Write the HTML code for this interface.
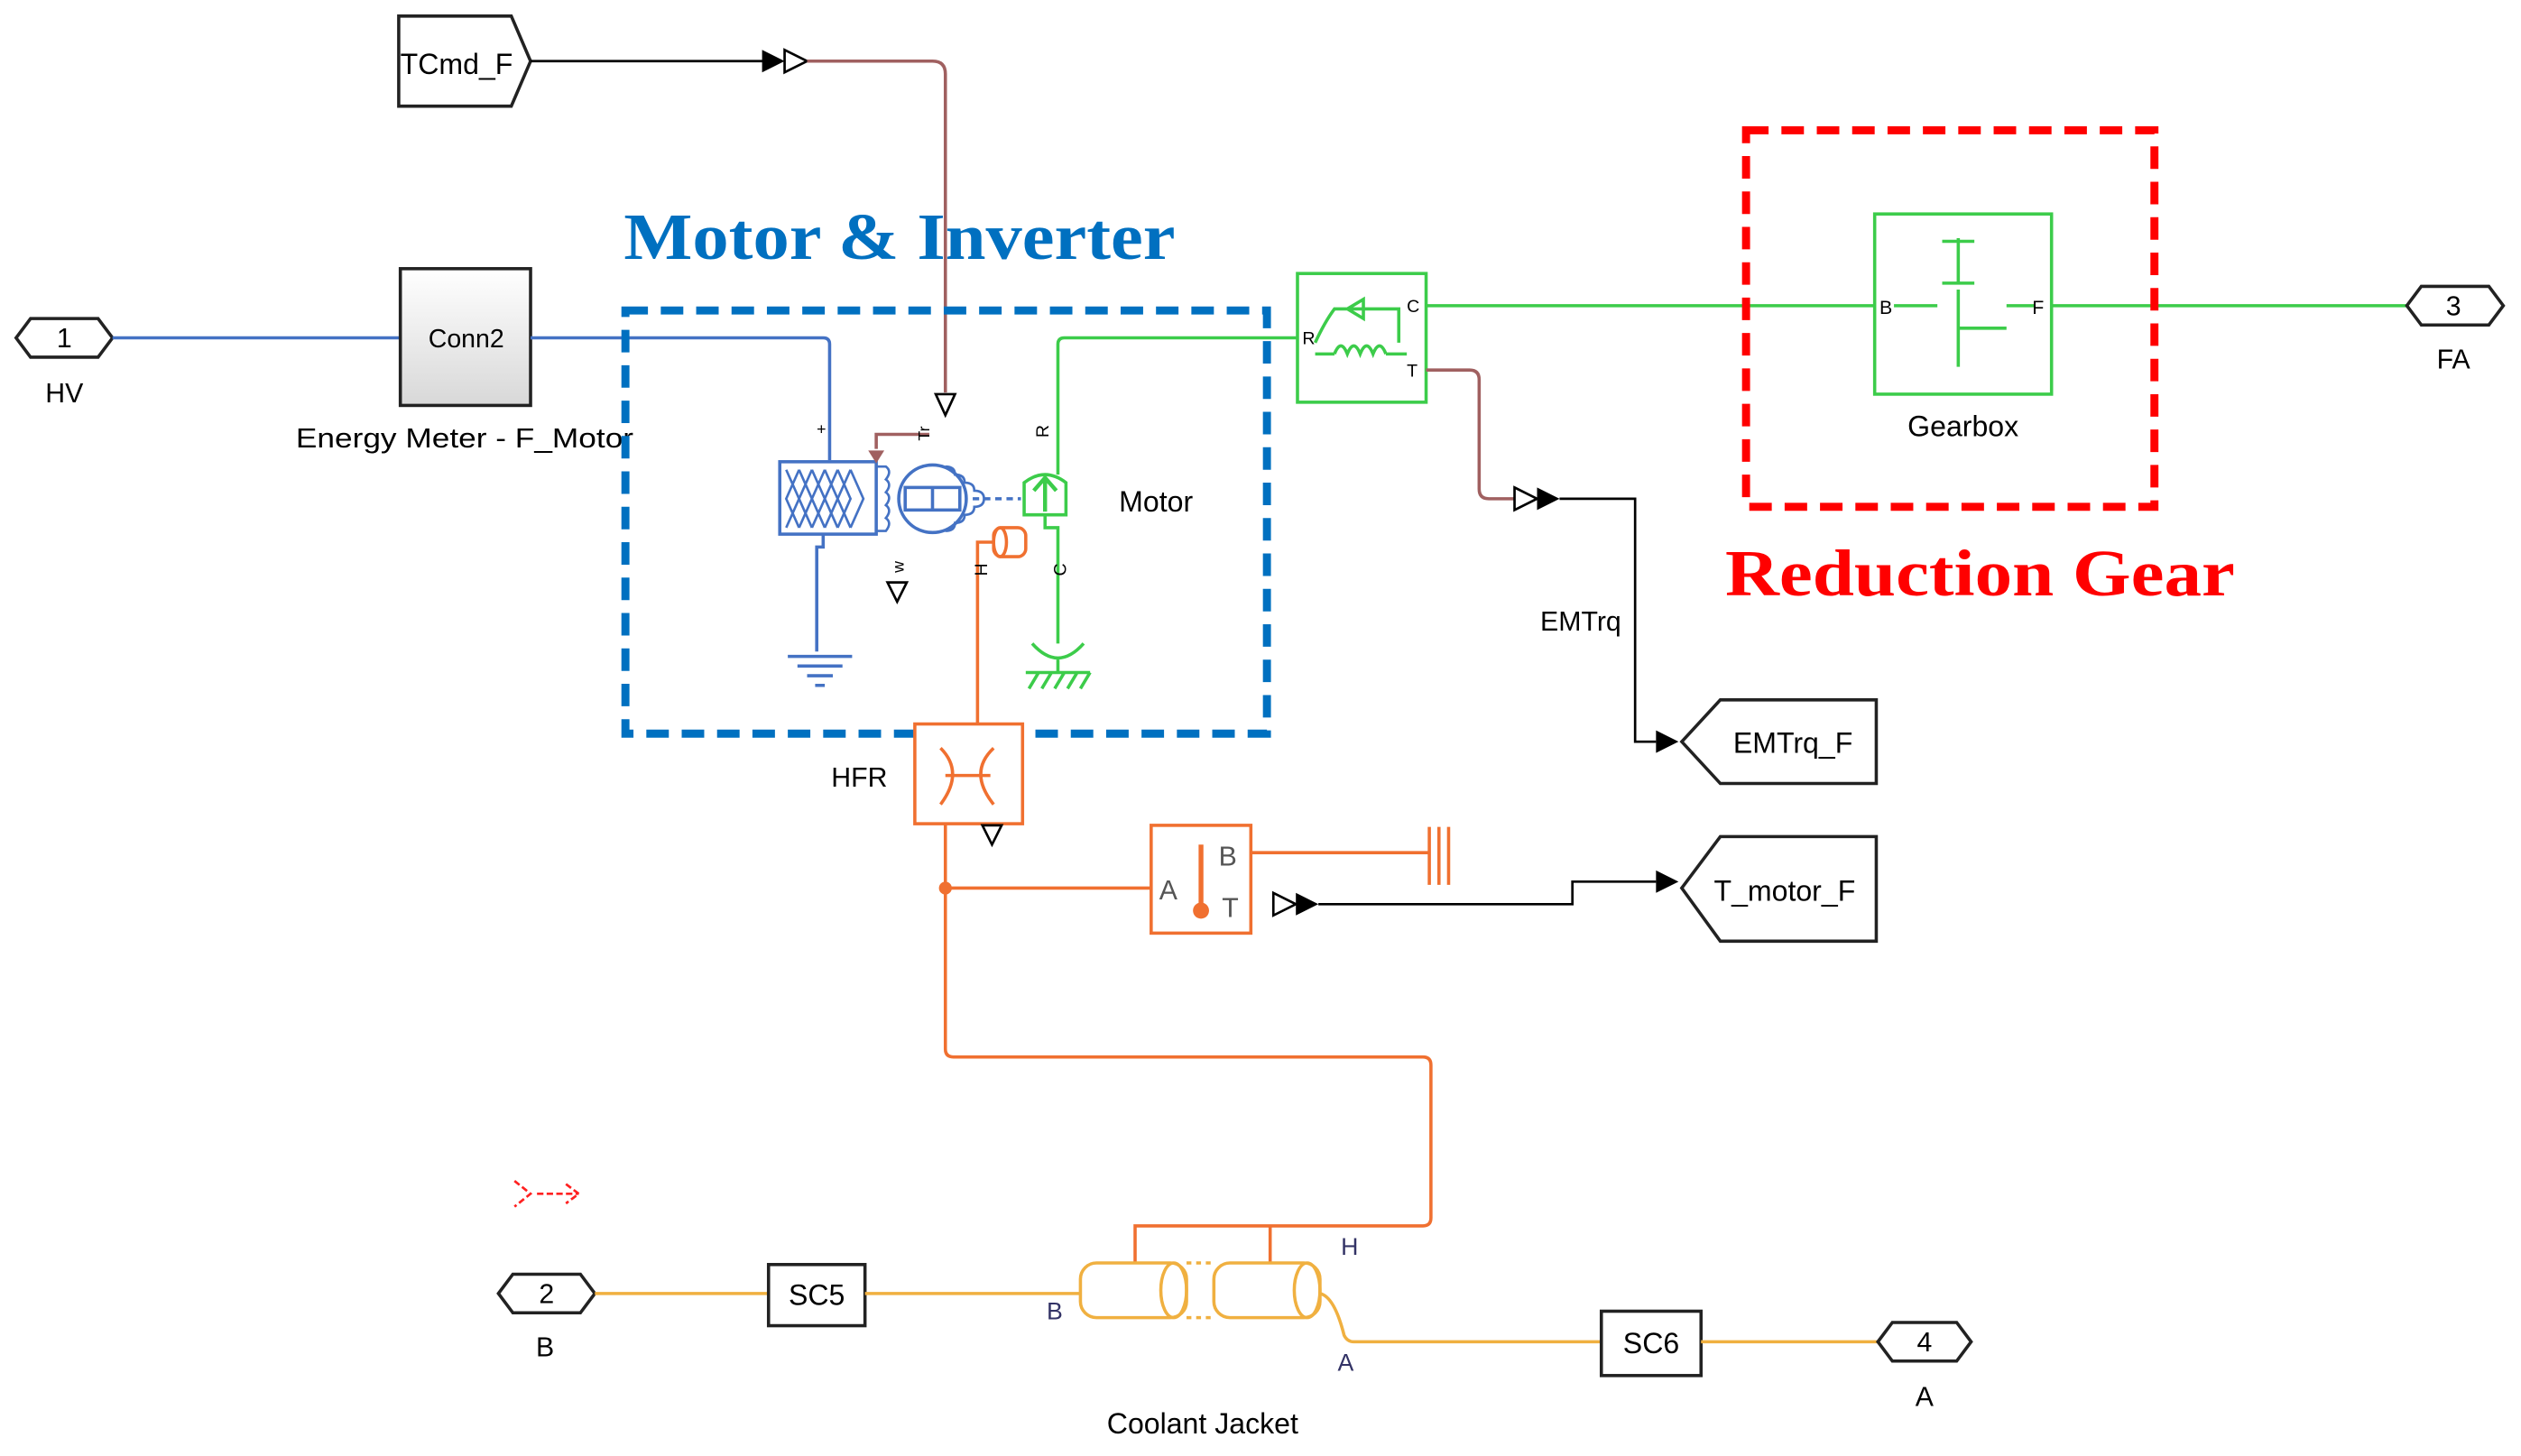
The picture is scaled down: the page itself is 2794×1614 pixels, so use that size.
<!DOCTYPE html>
<html><head><meta charset="utf-8"><style>
html,body{margin:0;padding:0;background:#fff}
svg{display:block}
text{font-family:"Liberation Sans",sans-serif}
</style></head><body>
<svg width="2794" height="1614" viewBox="0 0 1568 905" preserveAspectRatio="none" xmlns="http://www.w3.org/2000/svg">
<defs>
<linearGradient id="g" x1="0" y1="0" x2="0" y2="1"><stop offset="0" stop-color="#fff"/><stop offset="1" stop-color="#d8d8d8"/></linearGradient>
</defs>
<polygon points="248,10 318,10 330,38 318,66 248,66" fill="#fff" stroke="#222" stroke-width="2"/>
<text x="249" y="46" font-size="18">TCmd_F</text>
<line x1="330" y1="38" x2="476" y2="38" stroke="#000" stroke-width="1.5"/>
<polygon points="474,31 488,38 474,45" fill="#000"/>
<polygon points="488,31 502,38 488,45" fill="#fff" stroke="#000" stroke-width="1.5"/>
<path d="M502,38 H580 Q588,38 588,46 V244" fill="none" stroke="#a06060" stroke-width="2"/>
<polygon points="582,245 594,245 588,258" fill="#fff" stroke="#000" stroke-width="1.5"/>
<polygon points="10,210 19,198 61,198 70,210 61,222 19,222" fill="#fff" stroke="#222" stroke-width="2"/>
<text x="40" y="216" font-size="17" text-anchor="middle">1</text>
<text x="40" y="250" font-size="17" text-anchor="middle">HV</text>
<line x1="70" y1="210" x2="249" y2="210" stroke="#4472c4" stroke-width="2"/>
<rect x="249" y="167" width="81" height="85" fill="url(#g)" stroke="#222" stroke-width="2"/>
<text x="290" y="216" font-size="16" text-anchor="middle">Conn2</text>
<text x="184" y="278" font-size="17" textLength="210" lengthAdjust="spacingAndGlyphs">Energy Meter - F_Motor</text>
<path d="M330,210 H512 Q516,210 516,214 V286" fill="none" stroke="#4472c4" stroke-width="2"/>
<text x="508" y="270" font-size="10">+</text>
<rect x="485" y="287" width="60" height="45" fill="none" stroke="#4472c4" stroke-width="2"/>
<path d="M489,292 L497,310 L489,328 M497,292 L489,310 L497,328 M497,292 L505,310 L497,328 M505,292 L497,310 L505,328 M505,292 L513,310 L505,328 M513,292 L505,310 L513,328 M513,292 L521,310 L513,328 M521,292 L513,310 L521,328 M521,292 L529,310 L521,328 M529,292 L521,310 L529,328 M529,292 L537,310 L529,328" stroke="#4472c4" stroke-width="1.5" fill="none"/>
<path d="M545,290 h6 q4,3 0,8 q4,3 0,8 q4,3 0,8 q4,3 0,8 q4,3 0,8 h-6" fill="none" stroke="#4472c4" stroke-width="1.5"/>
<circle cx="580" cy="310" r="21" fill="none" stroke="#4472c4" stroke-width="2"/>
<rect x="563" y="303" width="34" height="14" fill="none" stroke="#4472c4" stroke-width="2"/>
<line x1="580" y1="303" x2="580" y2="317" stroke="#4472c4" stroke-width="2"/>
<path d="M588,290 q6,0 6,5 q6,0 6,5 q6,0 6,5 q6,0 6,5 M588,330 q6,0 6,-5 q6,0 6,-5 q6,0 6,-5 q6,0 6,-5" fill="none" stroke="#4472c4" stroke-width="1.5"/>
<line x1="605" y1="310" x2="635" y2="310" stroke="#4472c4" stroke-width="2" stroke-dasharray="4,3"/>
<path d="M545,279 V270 H578" fill="none" stroke="#a06060" stroke-width="2"/>
<polygon points="540,280 550,280 545,288" fill="#a06060"/>
<text x="578" y="274" font-size="10" transform="rotate(-90 578 274)">Tr</text>
<path d="M512,332 V340 H508 V405" fill="none" stroke="#4472c4" stroke-width="2"/>
<path d="M490,408 H530 M496,414 H524 M502,420 H518 M507,426 H513" stroke="#4472c4" stroke-width="2"/>
<polygon points="552,362 564,362 558,374" fill="#fff" stroke="#000" stroke-width="1.5"/>
<text x="562" y="356" font-size="10" transform="rotate(-90 562 356)">w</text>
<path d="M637,320 V300 Q650,290 663,300 V320 Z" fill="none" stroke="#3ccc4a" stroke-width="2"/>
<path d="M650,318 V298 M643,305 L650,297 L657,305" stroke="#3ccc4a" stroke-width="2.5" fill="none"/>
<path d="M658,295 V214 Q658,210 662,210 H808" fill="none" stroke="#3ccc4a" stroke-width="2"/>
<text x="652" y="272" font-size="11" transform="rotate(-90 652 272)">R</text>
<path d="M650,320 V328 H658 V400" fill="none" stroke="#3ccc4a" stroke-width="2"/>
<text x="663" y="358" font-size="11" transform="rotate(-90 663 358)">C</text>
<path d="M642,400 Q658,418 674,400 M658,410 V418 M638,418 H678 M640,428 L646,418 M648,428 L654,418 M656,428 L662,418 M664,428 L670,418 M672,428 L678,418" fill="none" stroke="#3ccc4a" stroke-width="2"/>
<text x="696" y="318" font-size="18">Motor</text>
<rect x="618" y="328" width="20" height="18" rx="5" fill="none" stroke="#f07030" stroke-width="2"/>
<ellipse cx="622" cy="337" rx="4" ry="9" fill="none" stroke="#f07030" stroke-width="2"/>
<path d="M618,337 H608 V450" fill="none" stroke="#f07030" stroke-width="2"/>
<text x="614" y="358" font-size="11" transform="rotate(-90 614 358)">H</text>
<rect x="389" y="193" width="399" height="263" fill="none" stroke="#0070c0" stroke-width="5" stroke-dasharray="14,8"/>
<text x="388" y="161" font-size="41" font-weight="bold" fill="#0070c0" textLength="343" lengthAdjust="spacingAndGlyphs" style="font-family:'Liberation Serif',serif">Motor &amp; Inverter</text>
<rect x="807" y="170" width="80" height="80" fill="#fff" stroke="#3ccc4a" stroke-width="2"/>
<text x="810" y="214" font-size="11">R</text><text x="875" y="194" font-size="11">C</text><text x="875" y="234" font-size="11">T</text>
<path d="M818,213 Q824,200 830,192 H870 V213 M848,186 V198 M838,192 L848,186 L848,198 Z" fill="none" stroke="#3ccc4a" stroke-width="2"/>
<path d="M830,220 q4,-10 8,0 q4,-10 8,0 q4,-10 8,0 q4,-10 8,0 M818,220 H830 M862,220 H875" fill="none" stroke="#3ccc4a" stroke-width="2"/>
<line x1="887" y1="190" x2="1166" y2="190" stroke="#3ccc4a" stroke-width="2"/>
<rect x="1166" y="133" width="110" height="112" fill="#fff" stroke="#3ccc4a" stroke-width="2"/>
<path d="M1178,190 H1205 M1218,148 V176 M1208,150 H1228 M1208,176 H1228 M1218,180 V228 M1218,204 H1248 M1248,190 H1266" fill="none" stroke="#3ccc4a" stroke-width="2"/>
<text x="1169" y="195" font-size="12">B</text><text x="1264" y="195" font-size="12">F</text>
<text x="1221" y="271" font-size="18" text-anchor="middle">Gearbox</text>
<line x1="1276" y1="190" x2="1497" y2="190" stroke="#3ccc4a" stroke-width="2"/>
<polygon points="1497,190 1506,178 1548,178 1557,190 1548,202 1506,202" fill="#fff" stroke="#222" stroke-width="2"/>
<text x="1526" y="196" font-size="17" text-anchor="middle">3</text>
<text x="1526" y="229" font-size="17" text-anchor="middle">FA</text>
<rect x="1086" y="81" width="254" height="234" fill="none" stroke="#ff0000" stroke-width="5" stroke-dasharray="14,8"/>
<text x="1073" y="370" font-size="41" font-weight="bold" fill="#ff0000" textLength="317" lengthAdjust="spacingAndGlyphs" style="font-family:'Liberation Serif',serif">Reduction Gear</text>
<path d="M887,230 H914 Q920,230 920,236 V304 Q920,310 926,310 H942" fill="none" stroke="#a06060" stroke-width="2"/>
<polygon points="942,303 956,310 942,317" fill="#fff" stroke="#000" stroke-width="1.5"/>
<polygon points="956,303 970,310 956,317" fill="#000"/>
<path d="M970,310 H1017 V461 H1030" fill="none" stroke="#000" stroke-width="1.5"/>
<polygon points="1030,454 1044,461 1030,468" fill="#000"/>
<text x="958" y="392" font-size="17">EMTrq</text>
<polygon points="1046,461 1070,435 1167,435 1167,487 1070,487" fill="#fff" stroke="#222" stroke-width="2"/>
<text x="1078" y="468" font-size="18">EMTrq_F</text>
<rect x="569" y="450" width="67" height="62" fill="#fff" stroke="#f07030" stroke-width="2"/>
<path d="M585,465 Q600,480 585,500 M618,465 Q602,480 618,500 M588,482 H616" fill="none" stroke="#f07030" stroke-width="2"/>
<text x="517" y="489" font-size="17">HFR</text>
<polygon points="611,513 623,513 617,525" fill="#fff" stroke="#000" stroke-width="1.5"/>
<path d="M588,512 V552 H716" fill="none" stroke="#f07030" stroke-width="2"/>
<circle cx="588" cy="552" r="4" fill="#f07030"/>
<rect x="716" y="513" width="62" height="67" fill="#fff" stroke="#f07030" stroke-width="2"/>
<text x="721" y="559" font-size="17" fill="#555">A</text><text x="758" y="538" font-size="17" fill="#555">B</text><text x="760" y="570" font-size="17" fill="#555">T</text>
<line x1="747" y1="525" x2="747" y2="562" stroke="#f07030" stroke-width="3"/>
<circle cx="747" cy="566" r="5" fill="#f07030"/>
<path d="M778,530 H889 M889,514 V550 M895,514 V550 M901,514 V550" fill="none" stroke="#f07030" stroke-width="2"/>
<polygon points="792,555 806,562 792,569" fill="#fff" stroke="#000" stroke-width="1.5"/>
<polygon points="806,555 820,562 806,569" fill="#000"/>
<path d="M820,562 H978 V548 H1030" fill="none" stroke="#000" stroke-width="1.5"/>
<polygon points="1030,541 1044,548 1030,555" fill="#000"/>
<polygon points="1046,552 1070,520 1167,520 1167,585 1070,585" fill="#fff" stroke="#222" stroke-width="2"/>
<text x="1066" y="560" font-size="18">T_motor_F</text>
<path d="M588,552 V652 Q588,657 593,657 H885 Q890,657 890,662 V757 Q890,762 885,762 H706 V785 M790,762 V785" fill="none" stroke="#f07030" stroke-width="2"/>
<rect x="672" y="785" width="66" height="34" rx="10" fill="#fff" stroke="#f0b040" stroke-width="2"/>
<ellipse cx="730" cy="802" rx="8" ry="17" fill="none" stroke="#f0b040" stroke-width="2"/>
<rect x="755" y="785" width="66" height="34" rx="10" fill="#fff" stroke="#f0b040" stroke-width="2"/>
<ellipse cx="813" cy="802" rx="8" ry="17" fill="none" stroke="#f0b040" stroke-width="2"/>
<line x1="738" y1="785" x2="755" y2="785" stroke="#f0b040" stroke-width="2" stroke-dasharray="3,3"/>
<line x1="738" y1="819" x2="755" y2="819" stroke="#f0b040" stroke-width="2" stroke-dasharray="3,3"/>
<text x="834" y="780" font-size="15" fill="#336">H</text>
<text x="651" y="820" font-size="15" fill="#336">B</text>
<text x="832" y="852" font-size="15" fill="#336">A</text>
<text x="748" y="891" font-size="18" text-anchor="middle">Coolant Jacket</text>
<polygon points="310,804 319,792 361,792 370,804 361,816 319,816" fill="#fff" stroke="#222" stroke-width="2"/>
<text x="340" y="810" font-size="17" text-anchor="middle">2</text>
<text x="339" y="843" font-size="17" text-anchor="middle">B</text>
<line x1="370" y1="804" x2="478" y2="804" stroke="#f0b040" stroke-width="2"/>
<rect x="478" y="786" width="60" height="38" fill="#fff" stroke="#222" stroke-width="2"/>
<text x="508" y="811" font-size="18" text-anchor="middle">SC5</text>
<line x1="538" y1="804" x2="672" y2="804" stroke="#f0b040" stroke-width="2"/>
<path d="M821,804 Q830,806 836,830 Q838,834 842,834 H996" fill="none" stroke="#f0b040" stroke-width="2"/>
<rect x="996" y="815" width="62" height="40" fill="#fff" stroke="#222" stroke-width="2"/>
<text x="1027" y="841" font-size="18" text-anchor="middle">SC6</text>
<line x1="1058" y1="834" x2="1168" y2="834" stroke="#f0b040" stroke-width="2"/>
<polygon points="1168,834 1177,822 1217,822 1226,834 1217,846 1177,846" fill="#fff" stroke="#222" stroke-width="2"/>
<text x="1197" y="840" font-size="17" text-anchor="middle">4</text>
<text x="1197" y="874" font-size="17" text-anchor="middle">A</text>
<path d="M320,734 L330,742 L320,750 M334,742 H360 M352,736 L360,742 L352,748" fill="none" stroke="#ff2020" stroke-width="1.5" stroke-dasharray="4,2"/>
</svg>
</body></html>
